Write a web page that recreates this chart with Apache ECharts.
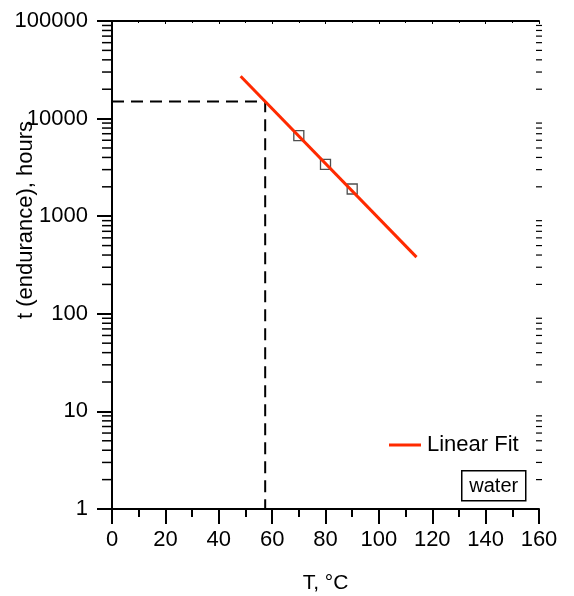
<!DOCTYPE html>
<html>
<head>
<meta charset="utf-8">
<script src="https://cdn.jsdelivr.net/npm/echarts@6/dist/echarts.min.js"></script>
<style>
  html, body { margin: 0; padding: 0; background: #fff; }
  #chart { width: 574px; height: 596px; }
</style>
</head>
<body>
<div id="chart"></div>
<script>
// Measured endurance times (hours) at each test temperature (°C)
var tempC = [70, 80, 90];
var hours = [6700, 3400, 1900];

// Linear fit of log(t) against T, drawn between its two end points
var fitT = [48.2, 114.1];
var fitHours = [27200, 381];

// Extrapolated reading: temperature for the target endurance
var guideT = 57.4;
var guideHours = 15000;

// Axis settings
var xTicks = [0, 20, 40, 60, 80, 100, 120, 140, 160];
var yDecades = [1, 10, 100, 1000, 10000, 100000];

var FONT = 'Liberation Sans, Arial, sans-serif';

// Minor log ticks 2..9 within every decade
var minorY = [];
for (var d = 0; d < yDecades.length - 1; d++) {
  for (var m = 2; m <= 9; m++) minorY.push(yDecades[d] * m);
}

var chart = echarts.init(document.getElementById('chart'), null, { renderer: 'canvas' });

var axisLine = { show: true, lineStyle: { color: '#000', width: 2 } };

chart.setOption({
  animation: false,
  backgroundColor: '#fff',
  grid: { left: 112, right: 35, top: 21, bottom: 87, containLabel: false, outerBoundsMode: 'none' },
  legend: {
    data: [{ name: 'Linear Fit', icon: 'rect' }],
    left: 384,
    top: 429,
    itemWidth: 32,
    itemHeight: 3,
    itemGap: 6,
    textStyle: { fontFamily: FONT, fontSize: 22, color: '#000', padding: [0, 0, 0, 1] }
  },
  xAxis: [{
    type: 'value',
    min: xTicks[0],
    max: xTicks[xTicks.length - 1],
    interval: 20,
    name: 'T, °C',
    nameLocation: 'middle',
    nameGap: 64,
    nameMoveOverlap: false,
    nameTextStyle: { fontFamily: FONT, fontSize: 21, color: '#000' },
    axisLine: axisLine,
    axisTick: { show: true, length: 15, lineStyle: { color: '#000', width: 2 } },
    minorTick: { show: true, splitNumber: 2, length: 8, lineStyle: { color: '#000', width: 2 } },
    axisLabel: { fontFamily: FONT, fontSize: 22, color: '#000', margin: 20 },
    splitLine: { show: false },
    minorSplitLine: { show: false }
  }, {
    type: 'value',
    position: 'top',
    min: xTicks[0],
    max: xTicks[xTicks.length - 1],
    interval: 20,
    axisLine: axisLine,
    axisTick: { show: true, inside: true, length: 3, lineStyle: { color: '#000', width: 1 } },
    minorTick: { show: true, splitNumber: 2, length: 2, lineStyle: { color: '#000', width: 1 } },
    axisLabel: { show: false },
    splitLine: { show: false }
  }],
  yAxis: [{
    type: 'log',
    logBase: 10,
    min: yDecades[0],
    max: yDecades[yDecades.length - 1],
    name: 't (endurance), hours',
    nameLocation: 'middle',
    nameGap: 75,
    nameMoveOverlap: false,
    nameTextStyle: { fontFamily: FONT, fontSize: 22, color: '#000', padding: [0, 0, 0, 90] },
    axisLine: axisLine,
    axisTick: { show: true, length: 15, lineStyle: { color: '#000', width: 2 } },
    axisLabel: {
      fontFamily: FONT, fontSize: 22, color: '#000', margin: 24,
      formatter: function (v) { return String(Math.round(v)); }
    },
    splitLine: { show: false }
  }, {
    type: 'log',
    logBase: 10,
    position: 'right',
    min: yDecades[0],
    max: yDecades[yDecades.length - 1],
    axisLine: axisLine,
    axisTick: { show: true, inside: true, length: 5, lineStyle: { color: '#000', width: 2 } },
    axisLabel: { show: false },
    splitLine: { show: false }
  }],
  graphic: [{
    type: 'group',
    left: 461,
    top: 470,
    children: [{
      type: 'rect',
      shape: { x: 0, y: 0, width: 64, height: 30 },
      style: { fill: '#fff', stroke: '#000', lineWidth: 1.5 }
    }, {
      type: 'text',
      x: 32, y: 16,
      style: {
        text: 'water', fontFamily: FONT, fontSize: 20, fill: '#000',
        align: 'center', verticalAlign: 'middle'
      }
    }]
  }],
  series: [{
    // minor log ticks on the left and right axes
    type: 'custom',
    xAxisIndex: 0,
    yAxisIndex: 0,
    silent: true,
    clip: false,
    data: minorY.map(function (v) { return [0, v]; }),
    renderItem: function (params, api) {
      var y = api.coord([0, api.value(1)])[1];
      var cs = params.coordSys;
      return {
        type: 'group',
        children: [{
          type: 'line',
          shape: { x1: cs.x - 10, y1: y, x2: cs.x + 1, y2: y },
          style: { stroke: '#000', lineWidth: 1.5 }
        }, {
          type: 'line',
          shape: { x1: cs.x + cs.width - 3, y1: y, x2: cs.x + cs.width + 3, y2: y },
          style: { stroke: '#000', lineWidth: 1.2 }
        }]
      };
    },
    z: 1
  }, {
    name: 'guide',
    type: 'line',
    symbol: 'none',
    silent: true,
    data: [[xTicks[0], guideHours], [guideT, guideHours], [guideT, yDecades[0]]],
    lineStyle: { color: '#000', width: 2, type: [12, 7] },
    z: 2
  }, {
    name: 'data',
    type: 'scatter',
    symbol: 'rect',
    symbolSize: 10,
    data: tempC.map(function (t, i) { return [t, hours[i]]; }),
    itemStyle: { color: 'rgba(0,0,0,0)', borderColor: '#222', borderWidth: 1.3 },
    z: 3
  }, {
    name: 'Linear Fit',
    type: 'line',
    symbol: 'none',
    data: fitT.map(function (t, i) { return [t, fitHours[i]]; }),
    lineStyle: { color: '#ff2a00', width: 3 },
    itemStyle: { color: '#ff2a00' },
    z: 4
  }]
});
</script>
</body>
</html>
